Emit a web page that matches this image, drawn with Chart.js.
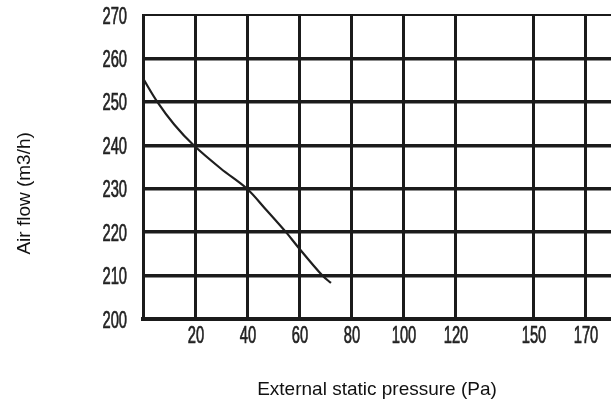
<!DOCTYPE html>
<html>
<head>
<meta charset="utf-8">
<script src="https://cdn.jsdelivr.net/npm/chart.js@4"></script>
<style>
  html, body { margin: 0; padding: 0; background: #fff; }
  #wrap { width: 611px; height: 407px; }
</style>
</head>
<body>
<div id="wrap"><canvas id="c" width="611" height="407"></canvas></div>
<script>
// ---- data ----
const PRESSURE = [0, 5.5, 12, 19.5, 30, 40, 47, 55, 60, 69, 72.3];        // Pa
const AIRFLOW  = [255.4, 250, 244.8, 240, 234.6, 230, 225.4, 220, 216.3, 210, 208.3]; // m3/h
const X_TICKS  = [20, 40, 60, 80, 100, 120, 150, 170];
const Y_MIN = 200, Y_MAX = 270, Y_STEP = 10;
const X_MIN = 0, X_MAX = 180;

const INK = '#1b1b1b';
const TITLE_FONT = { family: "'Liberation Sans', Arial, sans-serif", size: 19 };

const points = PRESSURE.map((x, i) => ({ x, y: AIRFLOW[i] }));

// tick labels in the narrow, tall style of the original print;
// positions come from the chart's own scales
const narrowTicks = {
  id: 'narrowTicks',
  afterDraw(chart) {
    const ctx = chart.ctx;
    const sx = 0.64;
    ctx.save();
    ctx.fillStyle = '#222';
    ctx.strokeStyle = '#222';
    ctx.lineWidth = 0.7;
    ctx.font = "23px 'Liberation Sans', Arial, sans-serif";
    ctx.textBaseline = 'alphabetic';

    const draw = (txt, x, y, align) => {
      ctx.save();
      ctx.translate(x, y);
      ctx.scale(sx, 1);
      ctx.textAlign = align;
      ctx.fillText(txt, 0, 0);
      ctx.strokeText(txt, 0, 0);
      ctx.restore();
    };

    const ys = chart.scales.y;
    ys.ticks.forEach(t => draw(t.label, ys.right - 16, ys.getPixelForValue(t.value) + 8.5, 'right'));

    const xs = chart.scales.x;
    xs.ticks.forEach(t => draw(t.label, xs.getPixelForValue(t.value) + 1, xs.top + 24, 'center'));
    ctx.restore();
  }
};

new Chart(document.getElementById('c'), {
  type: 'line',
  data: {
    datasets: [{
      data: points,
      borderColor: '#1e1e1e',
      borderWidth: 2.2,
      pointRadius: 0,
      tension: 0.35,
      fill: false
    }]
  },
  options: {
    responsive: false,
    animation: false,
    layout: { padding: { top: 15, right: 0, bottom: 0, left: 0 } },
    plugins: { legend: { display: false }, tooltip: { enabled: false } },
    scales: {
      x: {
        type: 'linear',
        min: X_MIN, max: X_MAX,
        afterBuildTicks: s => { s.ticks = X_TICKS.map(v => ({ value: v })); },
        afterFit: s => { s.height = 88; s.paddingLeft = 0; s.paddingRight = 0; },
        grid: { color: INK, lineWidth: 3, drawTicks: false },
        border: { color: INK, width: 4 },
        ticks: { display: false },
        title: { display: true, text: 'External static pressure (Pa)', font: TITLE_FONT, color: '#111', padding: { top: 0, bottom: 6 } }
      },
      y: {
        min: Y_MIN, max: Y_MAX,
        afterFit: s => { s.width = 143; s.paddingTop = 0; s.paddingBottom = 0; },
        grid: {
          color: INK,
          lineWidth: c => (c.tick && c.tick.value === Y_MAX ? 2 : 3.5),
          drawTicks: false
        },
        border: { color: INK, width: 3 },
        ticks: { display: false, stepSize: Y_STEP },
        title: { display: true, text: 'Air flow (m3/h)' + '\u00a0'.repeat(10), font: TITLE_FONT, color: '#111', padding: { top: 13, bottom: 0 } }
      }
    }
  },
  plugins: [narrowTicks]
});
</script>
</body>
</html>
